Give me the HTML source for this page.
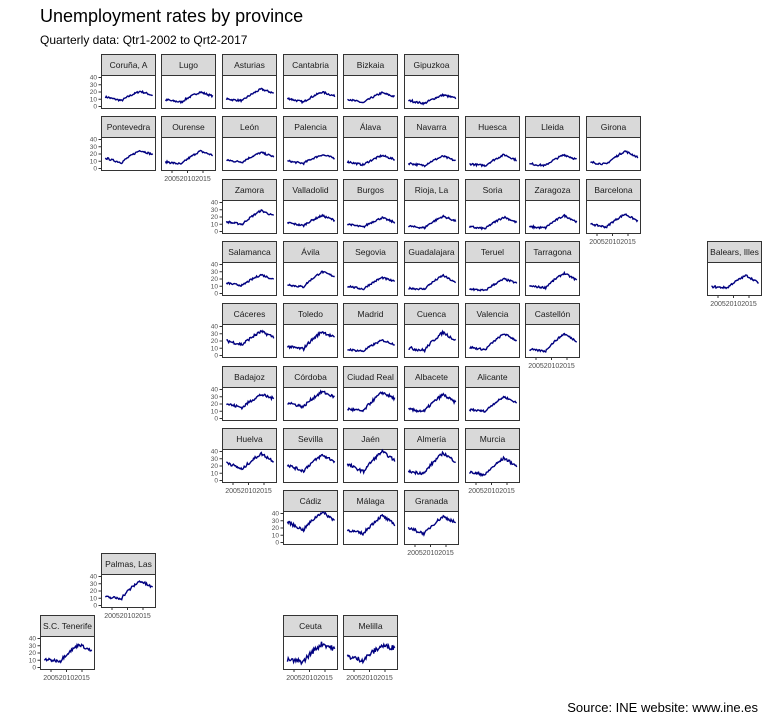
<!DOCTYPE html>
<html><head><meta charset="utf-8"><style>
html,body{margin:0;padding:0;background:#fff;}
svg{display:block;}
</style></head><body>
<svg id="s" width="768" height="720" xmlns="http://www.w3.org/2000/svg" font-family="Liberation Sans, DejaVu Sans, sans-serif">
<rect width="768" height="720" fill="#fff"/>
<text x="40" y="22" font-size="18" fill="#000">Unemployment rates by province</text>
<text x="40" y="44" font-size="12" fill="#000">Quarterly data: Qtr1-2002 to Qrt2-2017</text>
<text x="758" y="712" font-size="13" text-anchor="end" fill="#000">Source: INE website: www.ine.es</text>
<g id="g"></g>
</svg>
<script>
var P=[
["Coruña, A",0,1,13,8,21,15],["Lugo",0,2,9,6,20,14],["Asturias",0,3,10,8,24,18],["Cantabria",0,4,11,6,20,14],["Bizkaia",0,5,10,5,19,13],["Gipuzkoa",0,6,8,4,16,11],
["Pontevedra",1,1,14,8,25,19],["Ourense",1,2,9,6,24,18],["León",1,3,11,9,22,16],["Palencia",1,4,10,7,19,14],["Álava",1,5,9,5,18,12],["Navarra",1,6,7,4,17,10],["Huesca",1,7,6,4,19,11],["Lleida",1,8,6,4,19,12],["Girona",1,9,8,6,24,15],
["Zamora",2,3,13,10,29,21],["Valladolid",2,4,12,8,22,15],["Burgos",2,5,10,6,19,12],["Rioja, La",2,6,7,5,21,14],["Soria",2,7,6,4,20,12],["Zaragoza",2,8,6,5,22,13],["Barcelona",2,9,10,6,24,14],
["Salamanca",3,3,14,11,26,19],["Ávila",3,4,12,9,30,23],["Segovia",3,5,10,6,22,16],["Guadalajara",3,6,7,6,25,14],["Teruel",3,7,6,4,20,14],["Tarragona",3,8,10,8,28,18],["Balears, Illes",3,11,9,8,25,14],
["Cáceres",4,3,20,15,33,25],["Toledo",4,4,12,9,33,24],["Madrid",4,5,8,6,21,15],["Cuenca",4,6,10,7,32,20],["Valencia",4,7,11,8,30,20],["Castellón",4,8,8,6,30,19],
["Badajoz",5,3,20,15,33,27],["Córdoba",5,4,22,16,37,29],["Ciudad Real",5,5,13,10,36,27],["Albacete",5,6,12,10,33,21],["Alicante",5,7,12,10,30,21],
["Huelva",6,3,25,15,37,26],["Sevilla",6,4,21,13,35,26],["Jaén",6,5,22,12,40,27],["Almería",6,6,12,10,38,25],["Murcia",6,7,11,8,31,19],
["Cádiz",7,4,28,17,42,30],["Málaga",7,5,17,12,37,24],["Granada",7,6,20,12,36,27],
["Palmas, Las",8,1,11,10,34,24],
["S.C. Tenerife",9,0,11,9,32,22],["Ceuta",9,4,10,8,33,25],["Melilla",9,5,15,10,30,27]];
var minCol={},maxRow={};
P.forEach(function(p){var r=p[1],c=p[2];if(minCol[r]===undefined||c<minCol[r])minCol[r]=c;if(maxRow[c]===undefined||r>maxRow[c])maxRow[c]=r;});
var seed=7;function rnd(){seed=(seed*16807)%2147483647;return seed/2147483647;}
var h="";
P.forEach(function(p){
 var r=p[1],c=p[2],x=Math.round(40+60.65*c),y=Math.round(53+62.35*r),w=54;
 var st=y+1,sb=y+22,pb=y+55;
 h+='<rect x="'+(x+0.5)+'" y="'+(st+0.5)+'" width="'+w+'" height="21" fill="#d9d9d9" stroke="#333" stroke-width="1"/>';
 h+='<text x="'+(x+w/2+0.5)+'" y="'+(st+14)+'" font-size="8.5" text-anchor="middle" fill="#1a1a1a">'+p[0]+'</text>';
 h+='<rect x="'+(x+0.5)+'" y="'+(sb+0.5)+'" width="'+w+'" height="'+(pb-sb)+'" fill="#fff" stroke="#333" stroke-width="1"/>';
 var y0=pb-1.5,k=0.725;
 var pts=[],s=p[3],m=p[4],pk=p[5],e=p[6],noise=(p[0]=="Ceuta"||p[0]=="Melilla")?3.5:(p[5]>30?2:1.3);
 for(var i=0;i<62;i++){var t=2002+i/4,v;
  if(t<2007.3)v=s+(m-s)*(t-2002)/5.3+ (t<2003.5?(t-2002)*0.5:0);
  else if(t<2013.2)v=m+(pk-m)*Math.pow((t-2007.3)/5.9,0.8);
  else v=pk+(e-pk)*(t-2013.2)/4.3;
  v+=(rnd()-0.5)*2*noise;
  var px=x+1.4+(t-2002)*3.1+3,py=y0-Math.max(0,v)*k;
  pts.push(px.toFixed(1)+","+py.toFixed(1));}
 h+='<polyline points="'+pts.join(" ")+'" fill="none" stroke="#000080" stroke-width="1.4"/>';
 if(minCol[r]===c){
  for(var j=0;j<=4;j++){var ty=y0-j*10*k;
   h+='<line x1="'+(x-2.5)+'" x2="'+x+'" y1="'+ty+'" y2="'+ty+'" stroke="#333" stroke-width="1"/>';
   h+='<text x="'+(x-4)+'" y="'+(ty+2.2)+'" font-size="6.5" text-anchor="end" fill="#4d4d4d">'+(j*10)+'</text>';}
 }
 if(maxRow[c]===r){
  [2005,2010,2015].forEach(function(yr){var tx=x+1.4+(yr-2002)*3.1+0.3;
   h+='<line x1="'+tx+'" x2="'+tx+'" y1="'+(pb+0.5)+'" y2="'+(pb+3)+'" stroke="#333" stroke-width="1"/>';
   h+='<text x="'+tx+'" y="'+(pb+11)+'" font-size="7" text-anchor="middle" fill="#4d4d4d">'+yr+'</text>';});
 }
});
document.getElementById("g").innerHTML=h;
</script>
</body></html>
